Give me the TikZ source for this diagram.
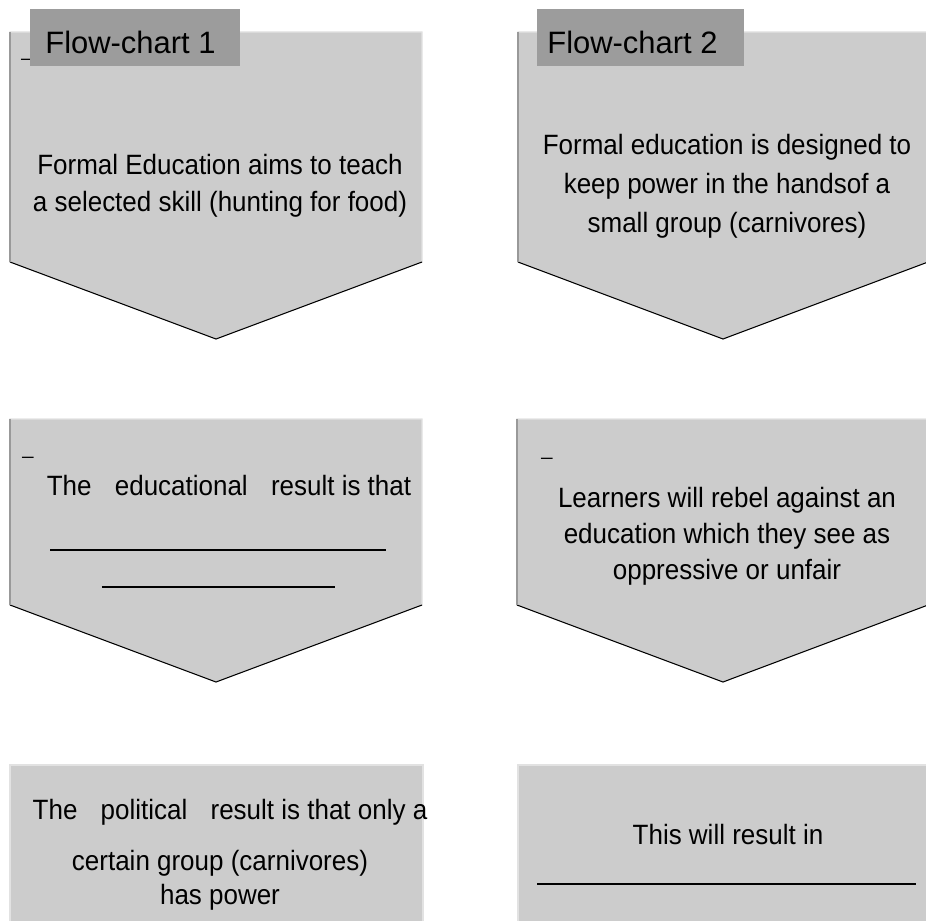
\documentclass[tikz,border=0pt]{standalone}
\usepackage{fontspec}
\setmainfont{Liberation Sans}
\usetikzlibrary{positioning}
\definecolor{chevfill}{HTML}{CCCCCC}
\definecolor{tabfill}{HTML}{9C9C9C}
\definecolor{edgedark}{HTML}{999999}
\definecolor{edgelight}{HTML}{E2E2E2}
\newcommand{\wgap}{\hspace{0.5cm}}

\begin{document}
\begin{tikzpicture}[every node/.style={align=center,inner sep=0pt},
  chevron/.style={fill=chevfill,draw=edgelight,line width=0.6pt},
  tipline/.style={draw=black,line width=0.6pt},
  leftline/.style={draw=edgedark,line width=0.9pt},
  tab/.style={fill=tabfill,anchor=north west,minimum height=1.14cm},
  tabtext/.style={anchor=west,font=\fontsize{17.6}{21}\selectfont},
  body/.style={xscale=0.93,transform shape,font=\fontsize{15.9}{21}\selectfont},
  dashtext/.style={anchor=base west,font=\fontsize{11.4}{13}\selectfont}]
  \useasboundingbox (0,0) rectangle (18.52,-18.42);
  \clip (0,0) rectangle (18.52,-18.42);
  % upper row
  \draw[chevron] (0.20,-0.64) -- (8.44,-0.64) -- (8.44,-5.24) -- (4.32,-6.78) -- (0.20,-5.24) -- cycle;
  \draw[tipline] (0.20,-5.24) -- (4.32,-6.78) -- (8.44,-5.24);
  \draw[leftline] (0.20,-0.64) -- (0.20,-5.24);
  \draw[chevron] (10.36,-0.64) -- (18.56,-0.64) -- (18.56,-5.24) -- (14.46,-6.78) -- (10.36,-5.24) -- cycle;
  \draw[tipline] (10.36,-5.24) -- (14.46,-6.78) -- (18.56,-5.24);
  \draw[leftline] (10.36,-0.64) -- (10.36,-5.24);
  \node[dashtext] (dashA) at (0.42,-1.14) {\_};
  \node[tab,minimum width=4.20cm] (tabA) at (0.60,-0.18) {};
  \node[tabtext] (titleA) at ([xshift=0.30cm,yshift=-0.09cm]tabA.west) {Flow-chart 1};
  \node[tab,minimum width=4.14cm] (tabB) at (10.74,-0.18) {};
  \node[tabtext] (titleB) at ([xshift=0.20cm,yshift=-0.09cm]tabB.west) {Flow-chart 2};
  \node[body] (aimA) at (4.40,-3.72) {Formal Education aims to teach\\a selected skill (hunting for food)};
  \node[body,font=\fontsize{15.9}{22.2}\selectfont] (aimB) at (14.54,-3.72) {Formal education is designed to\\keep power in the handsof a\\small group (carnivores)};
  % middle row
  \draw[chevron] (0.20,-8.38) -- (8.44,-8.38) -- (8.44,-12.10) -- (4.32,-13.64) -- (0.20,-12.10) -- cycle;
  \draw[tipline] (0.20,-12.10) -- (4.32,-13.64) -- (8.44,-12.10);
  \draw[leftline] (0.20,-8.38) -- (0.20,-12.10);
  \draw[chevron] (10.34,-8.38) -- (18.56,-8.38) -- (18.56,-12.10) -- (14.46,-13.64) -- (10.34,-12.10) -- cycle;
  \draw[tipline] (10.34,-12.10) -- (14.46,-13.64) -- (18.56,-12.10);
  \draw[leftline] (10.34,-8.38) -- (10.34,-12.10);
  \node[dashtext] (dashC) at (0.44,-9.08) {\_};
  \node[dashtext] (dashD) at (10.82,-9.10) {\_};
  \node[body] (resultC) at (4.58,-9.72) {The\wgap educational\wgap result is that};
  \node (blankC1) at (4.36,-11.00) {\rule{6.72cm}{0.6pt}};
  \node (blankC2) at (4.37,-11.74) {\rule{4.66cm}{0.6pt}};
  \node[body,font=\fontsize{15.9}{20.5}\selectfont] (rebelD) at (14.54,-10.72) {Learners will rebel against an\\education which they see as\\oppressive or unfair};
  % lower row
  \draw[chevron] (0.20,-15.30) rectangle (8.46,-18.70);
  \draw[chevron] (10.36,-15.30) rectangle (18.70,-18.70);
  \node[body] (powerE1) at (4.60,-16.24) {The\wgap political\wgap result is that only a};
  \node[body,font=\fontsize{15.9}{19.3}\selectfont] (powerE2) at (4.40,-17.60) {certain group (carnivores)\\has power};
  \node[body] (endF) at (14.56,-16.70) {This will result in};
  \node (blankF) at (14.53,-17.68) {\rule{7.58cm}{0.6pt}};
\end{tikzpicture}
\end{document}
